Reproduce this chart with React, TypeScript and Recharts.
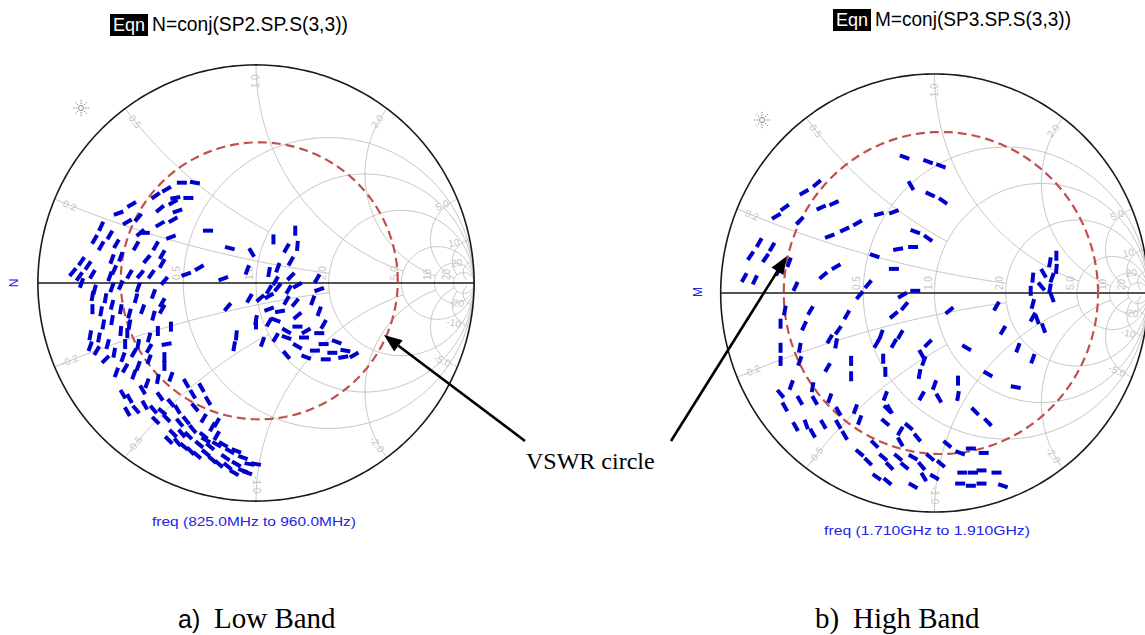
import { ScatterChart, Scatter, XAxis, YAxis } from 'recharts';

// [re(Γ), im(Γ), trace direction in degrees, screen space]
type Trace = [number, number, number];

const LOW_BAND: Trace[] = [
  // upper arc
  [-0.34, 0.46, 0], [-0.28, 0.46, 10], [-0.41, 0.43, -30], [-0.46, 0.40, -35],
  [-0.37, 0.39, -10], [-0.31, 0.39, 0], [-0.38, 0.37, -30], [-0.44, 0.34, -40],
  [-0.36, 0.33, -20], [-0.57, 0.36, -30], [-0.63, 0.32, -20], [-0.54, 0.30, -50],
  [-0.59, 0.28, -30], [-0.44, 0.27, -30], [-0.38, 0.29, -30], [-0.39, 0.21, -20],
  [-0.53, 0.23, -40], [-0.51, 0.23, 0],
  // left band
  [-0.71, 0.26, -65], [-0.67, 0.22, -60], [-0.74, 0.20, -60], [-0.64, 0.18, -60],
  [-0.71, 0.17, -60], [-0.55, 0.17, -60], [-0.46, 0.17, -60], [-0.43, 0.13, -60],
  [-0.50, 0.11, -50], [-0.43, 0.09, -60], [-0.80, 0.10, -55], [-0.77, 0.08, -55],
  [-0.84, 0.05, -50], [-0.81, 0.03, -55], [-0.75, 0.04, -60], [-0.66, 0.11, -70],
  [-0.62, 0.12, -70], [-0.65, 0.06, -65], [-0.67, 0.03, -70], [-0.58, 0.04, -60],
  [-0.53, 0.04, -50], [-0.48, 0.04, -55], [-0.42, 0.01, -50], [-0.74, -0.03, -75],
  [-0.69, -0.07, -80], [-0.75, -0.06, -80], [-0.66, -0.02, -70], [-0.62, -0.01, -65],
  [-0.54, -0.02, -70], [-0.55, -0.07, -75], [-0.47, -0.05, -70], [-0.43, -0.09, -60],
  [-0.43, -0.12, -60], [-0.75, -0.12, -90], [-0.71, -0.13, -80], [-0.66, -0.10, -75],
  [-0.62, -0.12, -80], [-0.58, -0.14, -75], [-0.52, -0.12, -70], [-0.47, -0.15, -75],
  [-0.66, -0.17, -80], [-0.76, -0.24, -80], [-0.72, -0.25, -80], [-0.68, -0.28, -75],
  [-0.62, -0.22, -85], [-0.59, -0.23, -90], [-0.58, -0.19, -80], [-0.60, -0.28, -90],
  [-0.54, -0.28, -80], [-0.49, -0.25, -75], [-0.45, -0.22, -90], [-0.39, -0.20, -90],
  [-0.41, -0.28, -10], [-0.76, -0.29, -70], [-0.73, -0.31, -60], [-0.69, -0.35, -45],
  [-0.65, -0.32, -80], [-0.61, -0.34, -70], [-0.56, -0.32, -60], [-0.54, -0.38, -70],
  [-0.49, -0.30, -60], [-0.49, -0.35, -70], [-0.42, -0.34, -90], [-0.42, -0.38, -90],
  [-0.64, -0.41, -70], [-0.60, -0.39, -60], [-0.56, -0.42, -70], [-0.50, -0.46, -70],
  [-0.45, -0.44, -80], [-0.39, -0.43, -70], [-0.70, -0.19, -80], [-0.80, 0.00, -70],
  // lower band
  [-0.32, -0.46, 60], [-0.29, -0.51, 60], [-0.25, -0.48, 60], [-0.22, -0.54, 60],
  [-0.61, -0.51, 60], [-0.58, -0.53, 60], [-0.59, -0.59, 60], [-0.55, -0.58, 50],
  [-0.51, -0.56, 60], [-0.47, -0.58, 50], [-0.43, -0.59, 40], [-0.46, -0.63, 45],
  [-0.41, -0.62, 45], [-0.36, -0.58, 60], [-0.32, -0.63, 50], [-0.29, -0.67, 50],
  [-0.24, -0.62, -60], [-0.20, -0.66, -60], [-0.18, -0.64, -60], [-0.40, -0.72, 45],
  [-0.36, -0.73, 50], [-0.33, -0.75, 40], [-0.30, -0.77, 45], [-0.26, -0.74, 40],
  [-0.23, -0.72, 30], [-0.21, -0.75, 40], [-0.18, -0.74, 30], [-0.15, -0.74, 30],
  [-0.12, -0.77, 30], [-0.09, -0.77, 20], [-0.27, -0.79, 40], [-0.23, -0.78, 40],
  [-0.17, -0.83, 40], [-0.13, -0.84, 40], [-0.09, -0.83, 30], [-0.10, -0.87, 30],
  [-0.06, -0.86, 20], [-0.03, -0.83, 10], [0.00, -0.83, 10], [-0.04, -0.87, 20],
  [-0.38, -0.69, 45], [-0.34, -0.69, 50], [-0.24, -0.70, 40], [-0.18, -0.70, -60],
  [-0.35, -0.64, 50], [-0.52, -0.49, 60], [-0.44, -0.52, 55], [-0.39, -0.55, 50],
  [-0.28, -0.57, 50], [-0.31, -0.70, 45], [-0.14, -0.80, 35], [-0.20, -0.81, 40],
  [-0.06, -0.80, 20],
  // centre cluster
  [-0.22, 0.24, 0], [-0.12, 0.16, 15], [-0.02, 0.14, 60], [-0.26, 0.07, -30],
  [-0.32, 0.04, -20], [-0.15, 0.02, -20], [-0.04, 0.06, -70], [-0.03, -0.07, -60],
  [-0.13, -0.11, -50], [0.00, -0.17, -80], [0.00, -0.19, -90], [-0.09, -0.24, -85],
  [-0.10, -0.29, -80], [0.03, -0.27, -70], [0.08, 0.20, -90], [0.18, 0.24, -90],
  [0.19, 0.17, -85], [0.14, 0.16, -60], [0.10, 0.07, -70], [0.16, 0.10, -60],
  [0.06, 0.05, -80], [0.09, 0.01, -60], [0.16, 0.03, -45], [0.06, -0.03, -60],
  [0.10, -0.02, -50], [0.15, -0.03, -60], [0.19, -0.01, -30], [0.02, -0.07, -40],
  [0.06, -0.06, -30], [0.14, -0.08, -60], [0.18, -0.09, -50], [0.28, 0.02, -60],
  [0.29, -0.03, -20], [0.26, -0.08, -70], [0.06, -0.12, -20], [0.11, -0.13, -10],
  [0.09, -0.17, 20], [0.06, -0.18, -60], [0.19, -0.15, -40], [0.29, -0.13, -70],
  [0.31, -0.19, -60], [0.19, -0.20, 0], [0.23, -0.22, -30], [0.29, -0.23, 0],
  [0.14, -0.22, 30], [0.09, -0.25, -60], [0.14, -0.25, 20], [0.22, -0.25, 0],
  [0.31, -0.28, 0], [0.37, -0.27, 20], [0.19, -0.29, 30], [0.27, -0.31, 0],
  [0.14, -0.33, 50], [0.23, -0.34, 20], [0.32, -0.35, 0], [0.35, -0.32, 0],
  [0.40, -0.34, -10], [0.41, -0.31, 10], [0.45, -0.33, -30],
];

const HIGH_BAND: Trace[] = [
  // upper half
  [-0.14, 0.62, 20], [-0.03, 0.60, 20], [0.03, 0.58, 20], [-0.11, 0.49, 60],
  [-0.02, 0.45, 25], [0.04, 0.42, 35], [-0.55, 0.50, -40], [-0.61, 0.46, -30],
  [-0.70, 0.39, -35], [-0.74, 0.35, -30], [-0.63, 0.33, -45], [-0.53, 0.39, -25],
  [-0.47, 0.41, -25], [-0.36, 0.32, -30], [-0.42, 0.29, -25], [-0.49, 0.26, -20],
  [-0.26, 0.36, -15], [-0.19, 0.37, -20], [-0.09, 0.28, 20], [-0.03, 0.25, 35],
  [-0.17, 0.20, -10], [-0.10, 0.21, 0], [-0.28, 0.17, 20], [-0.19, 0.11, 0],
  [-0.46, 0.12, -30], [-0.52, 0.08, -40], [-0.31, 0.04, -50], [-0.35, -0.01, -50],
  [-0.15, -0.01, -30], [-0.09, 0.01, 0], [-0.14, -0.06, -50], [-0.19, -0.10, -40],
  // left edge
  [-0.82, 0.23, -60], [-0.86, 0.17, -55], [-0.76, 0.21, -60], [-0.79, 0.16, -55],
  [-0.73, 0.10, -60], [-0.68, 0.14, -70], [-0.89, 0.07, -60], [-0.84, 0.06, -65],
  [-0.65, 0.03, -65], [-0.70, -0.08, -80], [-0.72, -0.14, -90], [-0.58, -0.08, -60],
  [-0.61, -0.15, -65], [-0.41, -0.10, -60], [-0.45, -0.17, -55], [-0.46, -0.23, -80],
  [-0.49, -0.21, -60],
  // middle
  [0.07, -0.08, -40], [0.29, -0.06, -60], [0.32, -0.17, -60], [0.39, -0.25, -70],
  [0.46, -0.30, -70], [0.15, -0.25, 30], [0.25, -0.37, 30], [0.38, -0.43, 10],
  [-0.72, -0.25, -90], [-0.72, -0.31, -90], [-0.63, -0.25, -80], [-0.63, -0.31, -70],
  [-0.39, -0.31, -90], [-0.39, -0.38, -90], [-0.50, -0.34, -60], [-0.27, -0.23, -60],
  [-0.25, -0.19, -70], [-0.24, -0.30, -90], [-0.23, -0.36, -90], [-0.19, -0.23, -60],
  [-0.16, -0.19, -60], [-0.06, -0.28, 60], [-0.03, -0.23, -45], [-0.05, -0.31, -70],
  [-0.07, -0.37, -80], [0.00, -0.42, -70], [0.02, -0.48, 60], [-0.06, -0.47, -60],
  [0.11, -0.40, -90], [0.11, -0.47, -80], [0.19, -0.54, 45], [0.25, -0.59, 45],
  // lower half
  [-0.72, -0.46, 50], [-0.70, -0.52, 60], [-0.67, -0.42, -70], [-0.63, -0.49, 60],
  [-0.57, -0.43, -80], [-0.56, -0.49, 60], [-0.49, -0.48, -70], [-0.45, -0.54, 60],
  [-0.37, -0.53, -70], [-0.23, -0.47, -70], [-0.22, -0.53, 45], [-0.65, -0.61, 60],
  [-0.60, -0.60, 70], [-0.57, -0.64, 60], [-0.52, -0.60, 60], [-0.45, -0.60, 60],
  [-0.42, -0.65, 60], [-0.35, -0.58, -70], [-0.23, -0.59, 40], [-0.21, -0.53, 60],
  [-0.16, -0.63, -60], [-0.12, -0.61, 40], [-0.08, -0.66, 50], [-0.16, -0.68, 60],
  [-0.28, -0.69, 45], [-0.35, -0.73, 40], [-0.31, -0.77, 45], [-0.27, -0.84, 35],
  [-0.24, -0.75, 40], [-0.21, -0.79, 45], [-0.17, -0.75, 40], [-0.14, -0.79, 40],
  [-0.10, -0.75, 30], [-0.06, -0.79, 50], [-0.05, -0.84, 60], [0.03, -0.78, 40],
  [-0.02, -0.75, 40], [0.06, -0.69, 40], [0.12, -0.73, 20], [0.17, -0.71, 0],
  [0.23, -0.73, 0], [-0.10, -0.88, 30], [0.00, -0.84, 30], [0.13, -0.82, 0],
  [0.18, -0.82, 0], [0.22, -0.81, 0], [0.29, -0.82, 0], [0.12, -0.87, 0],
  [0.17, -0.88, 0], [0.22, -0.87, 0], [0.32, -0.88, 20], [-0.22, -0.86, 40],
  // right cluster
  [0.57, 0.17, -90], [0.54, 0.14, -80], [0.57, 0.11, -85], [0.51, 0.09, 60],
  [0.46, 0.07, -85], [0.55, 0.07, -70], [0.50, 0.03, 50], [0.45, 0.01, -90],
  [0.54, 0.02, -80], [0.55, -0.02, 70], [0.46, -0.05, -75], [0.48, -0.12, 70],
  [0.51, -0.16, 70], [0.46, -0.11, -60],
];

// Smith grid: constant-resistance circles, reactance arcs and where each arc stops
const R_CIRCLES = [0.5, 1, 2, 5, 10, 20];
const X_ARCS = [0.2, 0.5, 1, 2, 5, 10, 20];
const X_ARC_END = [2, 1, 5, 10, 20, 20, 50];

// VSWR circles: centre and radius in the Γ plane
const LOW_VSWR = { re: 0.015, im: 0.01, mag: 0.635 };
const HIGH_VSWR = { re: 0.03, im: 0.0, mag: 0.735 };

const GRID = '#c6c6c6';
const LABEL = '#c4c4c4';
const BLUE = '#0000cc';
const TEXT_BLUE = '#2424e6';
const RED = '#c0504d';
const DOMAIN: [number, number] = [-1.05, 1.05];

type Pt = { re: number; im: number };

const zToGamma = (r: number, x: number): Pt => {
  const d = (r + 1) ** 2 + x * x;
  return { re: (r * r + x * x - 1) / d, im: (2 * x) / d };
};

function circle(cRe: number, cIm: number, rad: number, n = 180): Pt[] {
  const pts: Pt[] = [];
  for (let i = 0; i <= n; i++) {
    const t = (2 * Math.PI * i) / n;
    pts.push({ re: cRe + rad * Math.cos(t), im: cIm + rad * Math.sin(t) });
  }
  return pts;
}

function reactanceArc(x: number, rEnd: number, n = 80): Pt[] {
  const uEnd = rEnd / (rEnd + 1);
  const pts: Pt[] = [];
  for (let i = 0; i <= n; i++) {
    const u = (uEnd * i) / n;
    pts.push(zToGamma(u / (1 - u), x));
  }
  return pts;
}

const fmt = (v: number) => (Math.abs(v) >= 10 ? String(v) : v.toFixed(1));

const gridLabels = [
  ...R_CIRCLES.map((r) => ({ re: (r - 1) / (r + 1), im: 0, text: fmt(r), kind: 'r' })),
  ...X_ARCS.flatMap((x) =>
    [x, -x].map((v) => {
      const g = zToGamma(0, v);
      return { re: g.re * 0.925, im: g.im * 0.925, text: fmt(v), kind: 'x' };
    })
  ),
];

const noDot = () => <g />;

// one short frequency-sweep trace, drawn as a thick dash
const Dash = (p: any) => {
  const { cx, cy, payload } = p;
  const a = (payload.ang * Math.PI) / 180;
  const dx = 5 * Math.cos(a);
  const dy = 5 * Math.sin(a);
  return (
    <line x1={cx - dx} y1={cy - dy} x2={cx + dx} y2={cy + dy} stroke={BLUE} strokeWidth={4} />
  );
};

const GridLabel = (p: any) => {
  const { cx, cy, payload } = p;
  if (payload.kind === 'r') {
    const x = cx - 3;
    const y = cy - 3;
    return (
      <text x={x} y={y} transform={`rotate(-90 ${x} ${y})`} fontSize={10} fill={LABEL} fontFamily="Arial">
        {payload.text}
      </text>
    );
  }
  const phi = (Math.atan2(payload.im, payload.re) * 180) / Math.PI;
  const rot = Math.abs(phi) <= 90 ? -phi : phi > 0 ? 180 - phi : -180 - phi;
  return (
    <text
      x={cx}
      y={cy}
      transform={`rotate(${rot} ${cx} ${cy})`}
      textAnchor="middle"
      dominantBaseline="central"
      fontSize={10}
      fill={LABEL}
      fontFamily="Arial"
    >
      {payload.text}
    </text>
  );
};

function SmithChart({
  width,
  height,
  traces,
  vswr,
}: {
  width: number;
  height: number;
  traces: Trace[];
  vswr: { re: number; im: number; mag: number };
}) {
  const dashData = traces.map(([re, im, ang]) => ({ re, im, ang }));
  return (
    <ScatterChart width={width} height={height} margin={{ top: 0, right: 0, bottom: 0, left: 0 }}>
      <XAxis type="number" dataKey="re" domain={DOMAIN} hide allowDataOverflow />
      <YAxis type="number" dataKey="im" domain={DOMAIN} hide allowDataOverflow />
      {R_CIRCLES.map((r) => (
        <Scatter
          key={`r${r}`}
          data={circle(r / (r + 1), 0, 1 / (r + 1))}
          line={{ stroke: GRID, strokeWidth: 1 }}
          shape={noDot}
          isAnimationActive={false}
        />
      ))}
      {X_ARCS.flatMap((x, i) =>
        [x, -x].map((v) => (
          <Scatter
            key={`x${v}`}
            data={reactanceArc(v, X_ARC_END[i])}
            line={{ stroke: GRID, strokeWidth: 1 }}
            shape={noDot}
            isAnimationActive={false}
          />
        ))
      )}
      <Scatter data={gridLabels} shape={GridLabel} isAnimationActive={false} />
      <Scatter
        data={circle(0, 0, 1, 360)}
        line={{ stroke: '#1a1a1a', strokeWidth: 1.6 }}
        shape={noDot}
        isAnimationActive={false}
      />
      <Scatter
        data={[{ re: -1, im: 0 }, { re: 1, im: 0 }]}
        line={{ stroke: '#1a1a1a', strokeWidth: 1.6 }}
        shape={noDot}
        isAnimationActive={false}
      />
      <Scatter
        data={circle(vswr.re, vswr.im, vswr.mag, 240)}
        line={{ stroke: RED, strokeWidth: 2.2, strokeDasharray: '9 5' }}
        shape={noDot}
        isAnimationActive={false}
      />
      <Scatter data={dashData} shape={Dash} isAnimationActive={false} />
    </ScatterChart>
  );
}

function Star({ x, y }: { x: number; y: number }) {
  return (
    <g stroke="#8a8a8a" strokeWidth={1} fill="none">
      <circle cx={x} cy={y} r={2.5} />
      {[0, 45, 90, 135, 180, 225, 270, 315].map((a) => {
        const t = (a * Math.PI) / 180;
        return (
          <line
            key={a}
            x1={x + 4 * Math.cos(t)}
            y1={y + 4 * Math.sin(t)}
            x2={x + 9 * Math.cos(t)}
            y2={y + 9 * Math.sin(t)}
            strokeDasharray="1.5 1.2"
          />
        );
      })}
    </g>
  );
}

function Arrow({ x1, y1, x2, y2 }: { x1: number; y1: number; x2: number; y2: number }) {
  const a = Math.atan2(y2 - y1, x2 - x1);
  const len = 18;
  const half = 7;
  const bx = x2 - len * Math.cos(a);
  const by = y2 - len * Math.sin(a);
  const px = -Math.sin(a) * half;
  const py = Math.cos(a) * half;
  return (
    <g>
      <line x1={x1} y1={y1} x2={bx} y2={by} stroke="#000" strokeWidth={2.6} />
      <polygon points={`${x2},${y2} ${bx + px},${by + py} ${bx - px},${by - py}`} fill="#000" />
    </g>
  );
}

function EqnTitle({ x, y, text }: { x: number; y: number; text: string }) {
  return (
    <g fontFamily="Arial, 'Liberation Sans', sans-serif">
      <rect x={x} y={y} width={38} height={22} fill="#000" />
      <text x={x + 19} y={y + 17} textAnchor="middle" fontSize={18} fill="#fff" textLength={32} lengthAdjust="spacingAndGlyphs">
        Eqn
      </text>
      <text x={x + 42} y={y + 17} fontSize={20} fill="#000" textLength={196} lengthAdjust="spacingAndGlyphs">
        {text}
      </text>
    </g>
  );
}

export default function App() {
  return (
    <div
      style={{
        position: 'absolute',
        left: 0,
        top: 0,
        width: 1145,
        height: 635,
        overflow: 'hidden',
        background: '#fff',
      }}
    >
      <div style={{ position: 'absolute', left: 27, top: 54 }}>
        <SmithChart width={458} height={458} traces={LOW_BAND} vswr={LOW_VSWR} />
      </div>
      <div style={{ position: 'absolute', left: 710, top: 63 }}>
        <SmithChart width={449} height={460} traces={HIGH_BAND} vswr={HIGH_VSWR} />
      </div>
      <svg
        width={1145}
        height={635}
        style={{ position: 'absolute', left: 0, top: 0, pointerEvents: 'none' }}
      >
        <EqnTitle x={110} y={14} text="N=conj(SP2.SP.S(3,3))" />
        <EqnTitle x={833} y={9} text="M=conj(SP3.SP.S(3,3))" />

        <Star x={81} y={108} />
        <Star x={762} y={120} />

        <g fontFamily="Arial, 'Liberation Sans', sans-serif" fill={TEXT_BLUE}>
          <text x={18} y={283} transform="rotate(-90 18 283)" textAnchor="middle" fontSize={12}>
            N
          </text>
          <text x={702} y={292} transform="rotate(-90 702 292)" textAnchor="middle" fontSize={12}>
            M
          </text>
          <text x={152} y={526} fontSize={13} textLength={204} lengthAdjust="spacingAndGlyphs">
            freq (825.0MHz to 960.0MHz)
          </text>
          <text x={824} y={535} fontSize={13} textLength={206} lengthAdjust="spacingAndGlyphs">
            freq (1.710GHz to 1.910GHz)
          </text>
        </g>

        <Arrow x1={525} y1={441} x2={384} y2={335} />
        <Arrow x1={671} y1={441} x2={787} y2={256} />
        <text x={526} y={469} fontFamily="'Liberation Serif', 'Times New Roman', serif" fontSize={24} fill="#000">
          VSWR circle
        </text>

        <text x={178} y={628} fontFamily="'Liberation Sans', Arial, sans-serif" fontSize={25} fill="#000">
          a)
        </text>
        <text x={214} y={628} fontFamily="'Liberation Serif', 'Times New Roman', serif" fontSize={29} fill="#000">
          Low Band
        </text>
        <text x={815} y={628} fontFamily="'Liberation Serif', 'Times New Roman', serif" fontSize={29} fill="#000">
          b)
        </text>
        <text x={853} y={628} fontFamily="'Liberation Serif', 'Times New Roman', serif" fontSize={29} fill="#000">
          High Band
        </text>
      </svg>
    </div>
  );
}
